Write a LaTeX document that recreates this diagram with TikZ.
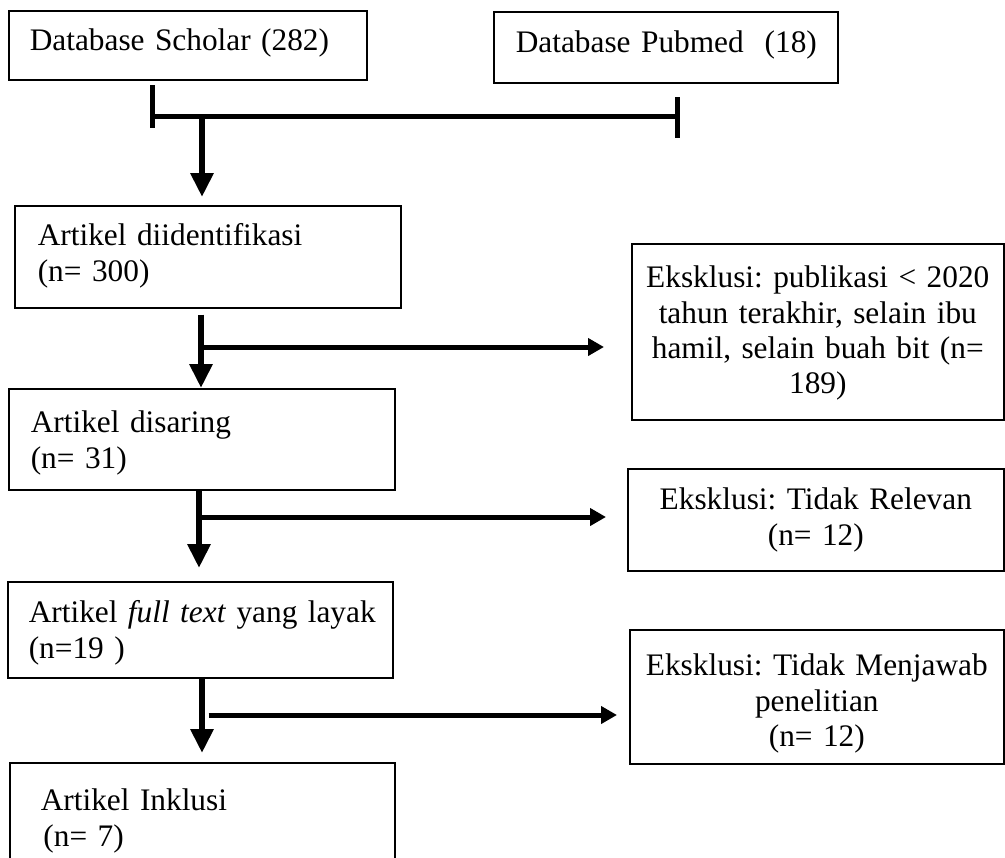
\documentclass[tikz,border=0pt]{standalone}
\usepackage{fontspec}
\setmainfont{Liberation Serif}
\usetikzlibrary{arrows.meta}
\begin{document}
\begin{tikzpicture}[x=0.75pt,y=-0.75pt,
  box/.style={draw, line width=1.2pt, inner ysep=0pt, anchor=north west,
    font=\fontsize{23.5pt}{26.5pt}\selectfont\frenchspacing},
  lbox/.style={box, align=left},
  rbox/.style={box, align=center, inner xsep=6pt},
  bar/.style={line width=3.75pt},
  varr/.style={line width=4.5pt, -{Triangle[length=18pt,width=16.5pt]}},
  harr/.style={line width=3.75pt, -{Triangle[length=12pt,width=12.75pt]}}]
\fill[white] (0,0) rectangle (1005,857);
\useasboundingbox (0,0) rectangle (1005,857);
\clip (0,0) rectangle (1005,857);

% top sources
\node[lbox, minimum width=268.5pt, minimum height=51.75pt, inner xsep=15.75pt,
  text width=237pt, text height=8.25pt, text depth=0pt] (b1) at (8,10)
  {\mbox{Database Scholar (282)}};
\node[lbox, minimum width=258pt, minimum height=53.25pt, inner xsep=16.5pt,
  text width=225pt, text height=8.25pt, text depth=0pt] (b2) at (493,11)
  {\mbox{Database Pubmed\ \ (18)}};

% left column
\node[lbox, minimum width=289.5pt, minimum height=76.5pt, inner xsep=17.25pt,
  text width=255pt, text height=0pt, text depth=16.5pt] (b3) at (14,205)
  {\mbox{Artikel diidentifikasi}\\(n= 300)};
\node[lbox, minimum width=289.5pt, minimum height=75.75pt, inner xsep=16.5pt,
  text width=256.5pt, text height=0pt, text depth=9.75pt] (b4) at (8,388)
  {\mbox{Artikel disaring}\\(n= 31)};
\node[lbox, minimum width=288.75pt, minimum height=72pt, inner xsep=15.75pt,
  text width=257.25pt, text height=0pt, text depth=10.5pt] (b7) at (7,581)
  {\mbox{Artikel \textit{full text} yang layak}\\(n=19 )};
\node[lbox, minimum width=288.75pt, minimum height=82.5pt, inner xsep=23.25pt,
  text width=242.25pt, text height=0pt, text depth=10.5pt] (b9) at (9,762)
  {\mbox{Artikel Inklusi}\\\hspace*{2pt}(n= 7)};

% right column
\node[rbox, minimum width=279pt, minimum height=132pt,
  text width=267pt, text height=0pt, text depth=66pt] (b5) at (631,243)
  {\mbox{Eksklusi: publikasi < 2020}\\\mbox{tahun terakhir, selain ibu}\\\mbox{hamil, selain buah bit (n=}\\189)};
\node[rbox, minimum width=282pt, minimum height=76.5pt,
  text width=270pt, text height=0pt, text depth=15pt] (b6) at (627,468)
  {\mbox{Eksklusi: Tidak Relevan}\\(n= 12)};
\node[rbox, minimum width=280.5pt, minimum height=100.5pt,
  text width=268.5pt, text height=0pt, text depth=31.5pt] (b8) at (629,629)
  {\mbox{Eksklusi: Tidak Menjawab}\\penelitian\\(n= 12)};

% merging bar
\coordinate (tl1) at (152,85);
\coordinate (tl2) at (152,128);
\coordinate (tr1) at (677,97);
\coordinate (tr2) at (677,138);
\coordinate (bl) at (152,116);
\coordinate (br) at (677,116);
\coordinate (bm) at (202,116);
\draw[bar] (tl1) -- (tl2);
\draw[bar] (tr1) -- (tr2);
\draw[bar] (bl) -- (br);
\draw[varr, shorten >=6pt] (bm) -- (bm |- b3.north);

% junctions
\coordinate (j1) at (201,347);
\coordinate (j2) at (199,517);
\coordinate (j3) at (202,715);

\draw[varr, shorten <=4.5pt] (b3.south -| j1) -- (b4.north -| j1);
\draw[harr, shorten >=20.25pt] (j1) -- (j1 -| b5.west);

\draw[varr, shorten >=9.75pt] (b4.south -| j2) -- (b7.north -| j2);
\draw[harr, shorten >=15.75pt] (j2) -- (j2 -| b6.west);

\draw[varr, shorten >=6.75pt] (b7.south -| j3) -- (b9.north -| j3);
\draw[harr, shorten >=9pt] ([xshift=5pt]j3) -- (j3 -| b8.west);
\end{tikzpicture}
\end{document}
